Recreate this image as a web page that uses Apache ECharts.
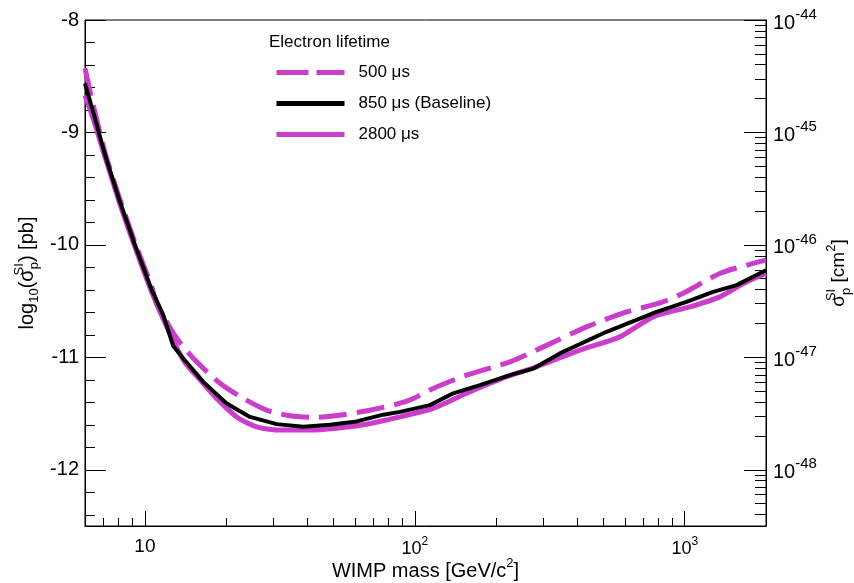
<!DOCTYPE html>
<html><head><meta charset="utf-8">
<script src="https://cdn.jsdelivr.net/npm/echarts@6/dist/echarts.min.js"></script>
<style>html,body{margin:0;padding:0;background:#fff}#c{width:854px;height:583px}</style>
</head><body><div id="c"></div>
<script>
// ---- data (WIMP mass in GeV/c^2, log10 sigma in pb) ----
const massDash = [6.0,6.44,7.12,8.04,9.19,10.6,11.06,13.12,15.56,18.98,23.15,28.27,34.46,43.28,54.3,68.2,85.6,95.9,117,155.6,225,299,432.9,608.8,808.8,986.5,1349,1792,2000];
const valDash  = [-8.43,-8.76,-9.18,-9.58,-9.98,-10.37,-10.52,-10.83,-11.04,-11.23,-11.365,-11.47,-11.52,-11.534,-11.51,-11.47,-11.416,-11.38,-11.277,-11.158,-11.04,-10.907,-10.729,-10.596,-10.516,-10.43,-10.254,-10.165,-10.136];

const massBase = [6.0,6.44,7.12,8.04,9.19,10.6,11.7,12.74,13.88,16.46,20.09,24.51,30.77,38.61,48.5,60.9,76.4,88.1,113.8,138.8,174.3,225,274.6,344.7,513.3,786.4,1015.5,1274,1556,2000];
const valBase  = [-8.565,-8.82,-9.2,-9.6,-10.0,-10.4,-10.625,-10.9,-11.01,-11.218,-11.41,-11.53,-11.594,-11.618,-11.60,-11.57,-11.51,-11.485,-11.425,-11.32,-11.247,-11.158,-11.10,-10.965,-10.773,-10.596,-10.507,-10.418,-10.358,-10.225];

const massLong = [6.0,6.44,7.12,8.04,9.19,10.6,11.7,13.88,16.0,18.45,21.88,25.95,32.56,40.88,51.3,64.4,80.9,88.1,117,155.6,218.8,282.7,408.8,575,763.9,1044.5,1349,1694,2000];
const valLong  = [-8.67,-8.88,-9.22,-9.62,-10.02,-10.42,-10.66,-11.025,-11.2,-11.365,-11.53,-11.618,-11.647,-11.647,-11.63,-11.60,-11.55,-11.529,-11.454,-11.32,-11.173,-11.084,-10.936,-10.818,-10.64,-10.551,-10.462,-10.329,-10.254];

const seriesNames = ['500 μs', '850 μs (Baseline)', '2800 μs'];

// ---- ticks ----
const xMajor = [10, 100, 1000];
const xMinor = [7,8,9,20,30,40,50,60,70,80,90,200,300,400,500,600,700,800,900,2000];
const yMajor = [-12,-11,-10,-9,-8];
const yMinor = [-12.4,-12.2,-11.8,-11.6,-11.4,-11.2,-10.8,-10.6,-10.4,-10.2,-9.8,-9.6,-9.4,-9.2,-8.8,-8.6,-8.4,-8.2];
// right axis: log10(sigma / cm^2) = log10(sigma / pb) - 36
const rExpMajor = [-48,-47,-46,-45,-44];
const rExpMinor = [];
for (let e = -49; e <= -45; e++) for (let k = 2; k <= 9; k++) {
  const v = e + Math.log10(k);
  if (v >= -48.5 && v <= -44) rExpMinor.push(v);
}

const FONT = 'Liberation Sans, Arial, sans-serif';
const MAG = '#cc3dcc';
const pairs = (m, v) => m.map((x, i) => [x, v[i]]);

const chart = echarts.init(document.getElementById('c'), null, {renderer: 'canvas'});
chart.setOption({
  animation: false,
  backgroundColor: '#fff',
  textStyle: {fontFamily: FONT},
  grid: {left: 85, right: 88, top: 20, bottom: 57, outerBoundsMode: 'none', containLabel: false, show: true, borderColor: '#000', borderWidth: 1, backgroundColor: 'transparent'},
  title: {text: 'Electron lifetime', left: 269, top: 34, padding: 0, textStyle: {fontFamily: FONT, fontSize: 17, fontWeight: 'normal', color: '#000'}},
  legend: {
    orient: 'vertical', left: 274, top: 64, padding: 0, itemWidth: 68, itemHeight: 16, itemGap: 14,
    selectedMode: false,
    itemStyle: {color: 'transparent', borderWidth: 0, opacity: 0},
    lineStyle: {width: 5},
    data: [
      {name: seriesNames[0], lineStyle: {width: 5, type: [32, 8], color: MAG}},
      {name: seriesNames[1], lineStyle: {width: 5, color: '#000'}},
      {name: seriesNames[2], lineStyle: {width: 5, color: MAG}}
    ],
    textStyle: {fontFamily: FONT, fontSize: 17, color: '#000', padding: [0, 0, 0, 9]}
  },
  xAxis: [{
    type: 'log', logBase: 10, min: 6, max: 2000, position: 'bottom',
    name: '{t|WIMP mass [GeV/c}{s|2}{t|]}', nameLocation: 'middle', nameGap: 31, nameMoveOverlap: false,
    nameTextStyle: {rich: {t: {fontFamily: FONT, fontSize: 20, lineHeight: 24, verticalAlign: 'bottom', color: '#000'}, s: {fontFamily: FONT, fontSize: 13, lineHeight: 13, verticalAlign: 'top', color: '#000'}}},
    axisLine: {show: true, lineStyle: {color: '#000', width: 1}},
    axisTick: {show: true, inside: true, length: 15, customValues: xMajor, lineStyle: {color: '#000'}},
    axisLabel: {
      customValues: xMajor, margin: 10,
      formatter: v => { const e = Math.round(Math.log10(v)); return e === 1 ? '{p|10}' : '{b|10}{s|' + e + '}'; },
      rich: {
        p: {fontFamily: FONT, fontSize: 19, lineHeight: 22, color: '#000'},
        b: {fontFamily: FONT, fontSize: 18, lineHeight: 22, verticalAlign: 'bottom', color: '#000'},
        s: {fontFamily: FONT, fontSize: 12, lineHeight: 12, verticalAlign: 'top', color: '#000'}
      }
    },
    splitLine: {show: false}
  }, {
    type: 'log', logBase: 10, min: 6, max: 2000, position: 'bottom',
    axisLine: {show: false},
    axisTick: {show: true, inside: true, length: 8, customValues: xMinor, lineStyle: {color: '#000'}},
    axisLabel: {show: false}, splitLine: {show: false}
  }],
  yAxis: [{
    type: 'value', min: -12.5, max: -8, position: 'left',
    name: '{t|log}{sub|10}{t|(σ}{sup|SI}{sub|p}{t|) [pb]}', nameLocation: 'middle', nameGap: 44, nameRotate: 90, nameMoveOverlap: false,
    nameTextStyle: {rich: {
      t: {fontFamily: FONT, fontSize: 20, lineHeight: 28, color: '#000'},
      sub: {fontFamily: FONT, fontSize: 13, lineHeight: 13, verticalAlign: 'bottom', color: '#000'},
      sup: {fontFamily: FONT, fontSize: 13, lineHeight: 13, verticalAlign: 'top', width: 0, color: '#000'}
    }},
    axisLine: {show: true, lineStyle: {color: '#000', width: 1}},
    axisTick: {show: true, inside: true, length: 21, customValues: yMajor, lineStyle: {color: '#000'}},
    axisLabel: {customValues: yMajor, margin: 6, fontFamily: FONT, fontSize: 20, color: '#000'},
    splitLine: {show: false}
  }, {
    type: 'value', min: -12.5, max: -8, position: 'left',
    axisLine: {show: false},
    axisTick: {show: true, inside: true, length: 10, customValues: yMinor, lineStyle: {color: '#000'}},
    axisLabel: {show: false}, splitLine: {show: false}
  }, {
    type: 'value', min: -48.5, max: -44, position: 'right',
    name: '{t|σ}{sup|SI}{sub|p}{t| [cm}{s2|2}{t|]}', nameLocation: 'middle', nameGap: 59, nameRotate: 90, nameMoveOverlap: false,
    nameTextStyle: {rich: {
      t: {fontFamily: FONT, fontSize: 19, lineHeight: 28, color: '#000'},
      sub: {fontFamily: FONT, fontSize: 13, lineHeight: 13, verticalAlign: 'bottom', color: '#000'},
      sup: {fontFamily: FONT, fontSize: 13, lineHeight: 13, verticalAlign: 'top', width: 0, color: '#000'},
      s2: {fontFamily: FONT, fontSize: 13, lineHeight: 13, verticalAlign: 'top', color: '#000'}
    }},
    axisLine: {show: true, lineStyle: {color: '#000', width: 1}},
    axisTick: {show: true, inside: true, length: 22, customValues: rExpMajor, lineStyle: {color: '#000'}},
    axisLabel: {
      customValues: rExpMajor, margin: 7,
      formatter: v => '{b|10}{s|' + Math.round(v) + '}',
      rich: {
        b: {fontFamily: FONT, fontSize: 20, lineHeight: 26, verticalAlign: 'bottom', color: '#000'},
        s: {fontFamily: FONT, fontSize: 15, lineHeight: 14, verticalAlign: 'top', color: '#000'}
      }
    },
    splitLine: {show: false}
  }, {
    type: 'value', min: -48.5, max: -44, position: 'right',
    axisLine: {show: false},
    axisTick: {show: true, inside: true, length: 11, customValues: rExpMinor, lineStyle: {color: '#000'}},
    axisLabel: {show: false}, splitLine: {show: false}
  }],
  series: [{
    name: seriesNames[0], type: 'line', xAxisIndex: 0, yAxisIndex: 0, showSymbol: false, symbol: 'none', smooth: 0.25,
    lineStyle: {color: MAG, width: 5, type: [28, 10]}, itemStyle: {color: MAG}, z: 3,
    data: pairs(massDash, valDash)
  }, {
    name: seriesNames[1], type: 'line', xAxisIndex: 0, yAxisIndex: 0, showSymbol: false, symbol: 'none', smooth: false,
    lineStyle: {color: '#000', width: 4}, itemStyle: {color: '#000'}, z: 4,
    data: pairs(massBase, valBase)
  }, {
    name: seriesNames[2], type: 'line', xAxisIndex: 0, yAxisIndex: 0, showSymbol: false, symbol: 'none', smooth: 0.25,
    lineStyle: {color: MAG, width: 5}, itemStyle: {color: MAG}, z: 2,
    data: pairs(massLong, valLong)
  }]
});
</script></body></html>
